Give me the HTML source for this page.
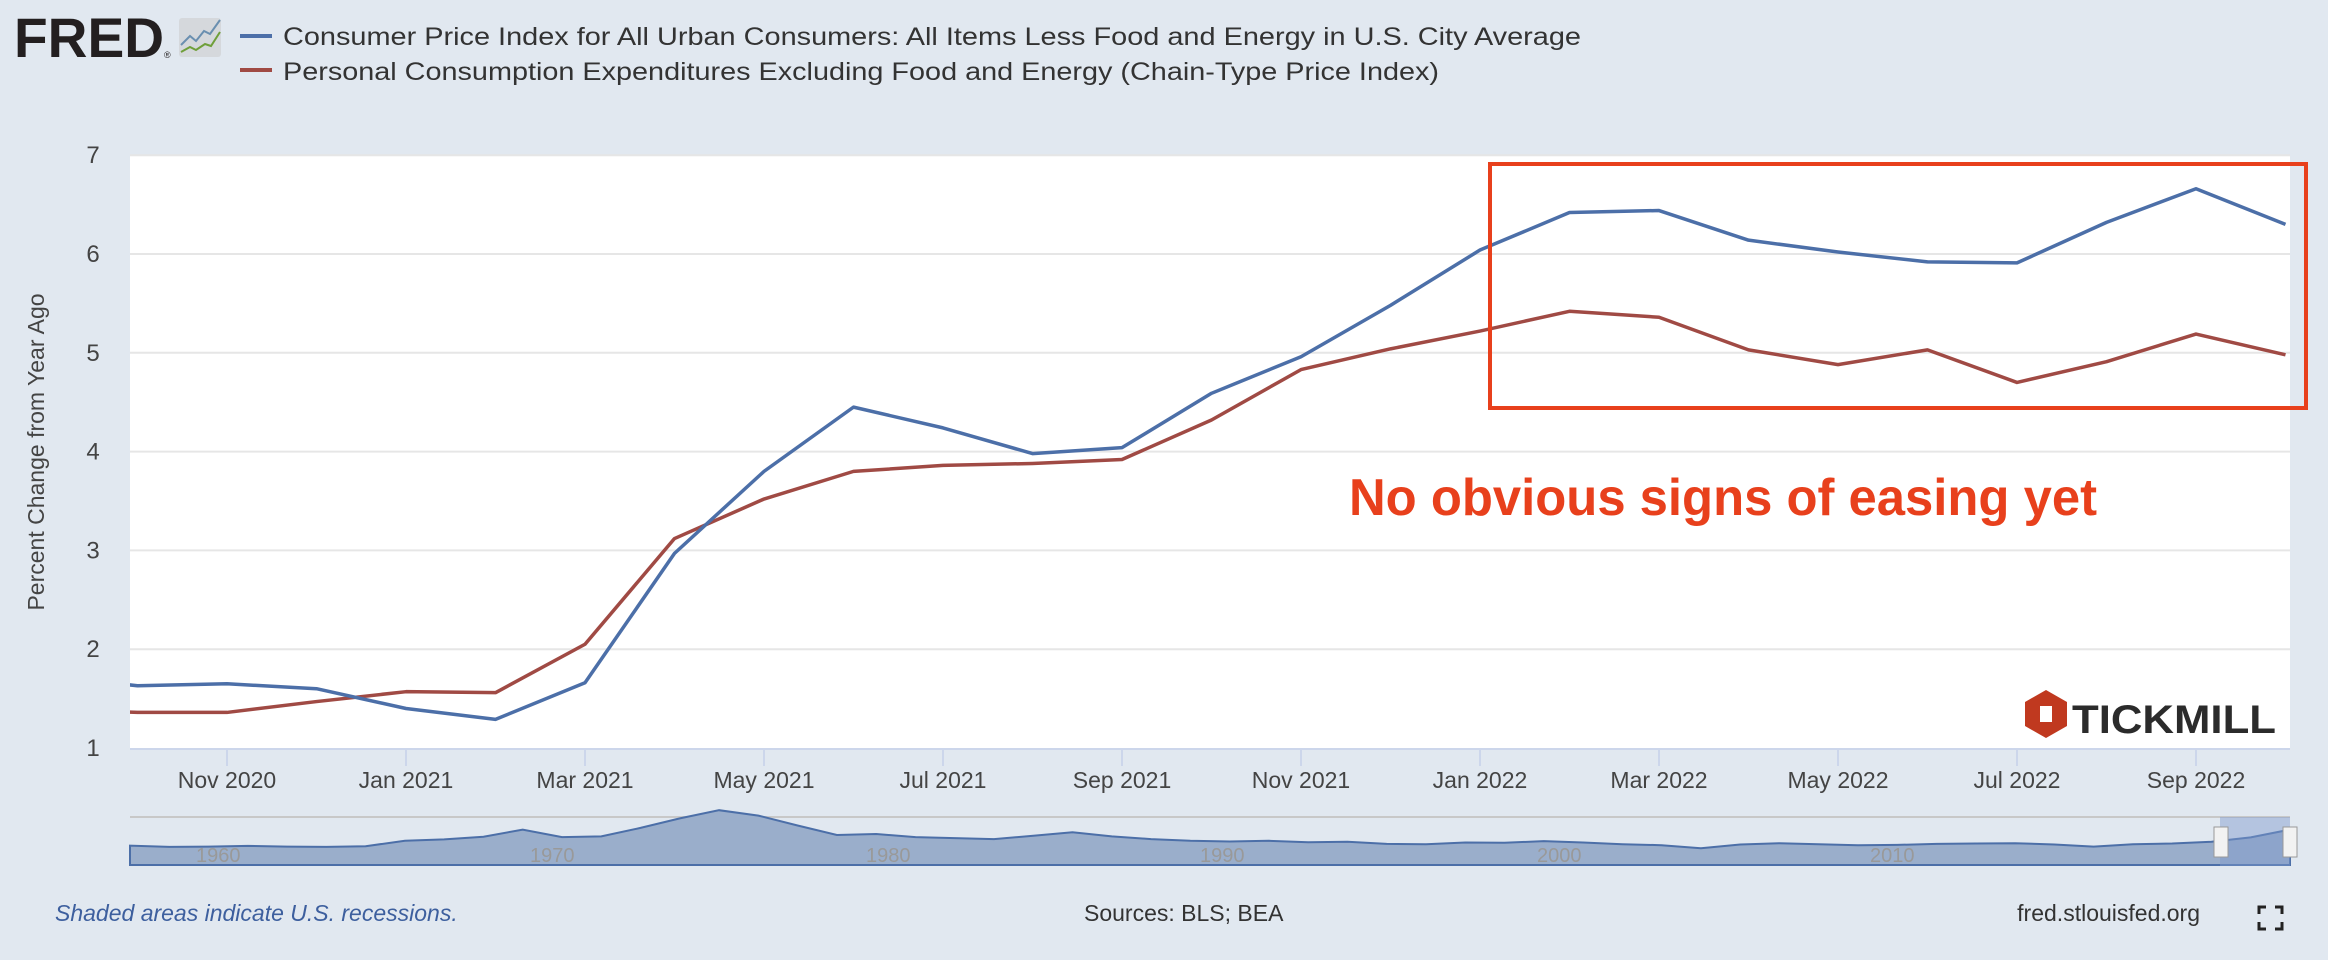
<!DOCTYPE html>
<html><head><meta charset="utf-8"><style>
html,body{margin:0;padding:0;background:#e1e8f0;}
svg{display:block;font-family:"Liberation Sans",sans-serif;}
</style></head><body>
<svg id="chart" width="2328" height="960" viewBox="0 0 2328 960">
<rect x="0" y="0" width="2328" height="960" fill="#e1e8f0"/>
<g>
<text x="14" y="57" font-size="56" font-weight="bold" fill="#231f20" textLength="150" lengthAdjust="spacingAndGlyphs">FRED</text>
<text x="164" y="58" font-size="9" fill="#231f20">®</text>
<rect x="179" y="18" width="42" height="39" rx="3" fill="#d5d8dc"/>
<polyline points="181,45 190,36 196,41 204,31 210,34 220,20" fill="none" stroke="#6a8fb0" stroke-width="2"/>
<polyline points="181,52 190,47 196,50 205,44 211,46 220,32" fill="none" stroke="#6f9f3a" stroke-width="2"/>
</g>
<g>
<rect x="240" y="34" width="32" height="4" fill="#4c6fa8"/>
<text x="283" y="45" font-size="25" fill="#333" textLength="1298" lengthAdjust="spacingAndGlyphs">Consumer Price Index for All Urban Consumers: All Items Less Food and Energy in U.S. City Average</text>
<rect x="240" y="68" width="32" height="4" fill="#a04a44"/>
<text x="283" y="80" font-size="25" fill="#333" textLength="1156" lengthAdjust="spacingAndGlyphs">Personal Consumption Expenditures Excluding Food and Energy (Chain-Type Price Index)</text>
</g>
<rect x="130" y="155" width="2160" height="593" fill="#fff"/>
<g id="grid"></g>
<g id="yticks"></g>
<g id="xticks"></g>
<text transform="translate(44,452) rotate(-90)" text-anchor="middle" font-size="23" fill="#444">Percent Change from Year Ago</text>
<defs><clipPath id="pc"><rect x="130" y="150" width="2160" height="600"/></clipPath></defs>
<g id="series" clip-path="url(#pc)"></g>
<line x1="130" y1="749" x2="2290" y2="749" stroke="#ccd6eb" stroke-width="2"/>
<g>
<polygon points="2046,690 2067,702 2067,726 2046,738 2025,726 2025,702" fill="#c0391f"/>
<polygon points="2040,706 2052,706 2052,722 2040,722" fill="#fff"/>
<text x="2072" y="733" font-size="40" font-weight="bold" fill="#2b2b2b" textLength="204" lengthAdjust="spacingAndGlyphs">TICKMILL</text>
</g>
<rect x="1490" y="164" width="816" height="244" fill="none" stroke="#e8401c" stroke-width="4"/>
<text x="1349" y="515" font-size="52" font-weight="bold" fill="#e8401c" textLength="748" lengthAdjust="spacingAndGlyphs">No obvious signs of easing yet</text>
<g>
<line x1="130" y1="817" x2="2290" y2="817" stroke="#c8c8c8" stroke-width="2"/>
<path id="navpath" fill="#9aaecb" stroke="#4c6fa8" stroke-width="2"/>
<rect x="2220" y="817" width="70" height="49" fill="#7f9acb" opacity="0.45"/>
<text x="196" y="862" font-size="20" fill="#999">1960</text>
<text x="530" y="862" font-size="20" fill="#999">1970</text>
<text x="866" y="862" font-size="20" fill="#999">1980</text>
<text x="1200" y="862" font-size="20" fill="#999">1990</text>
<text x="1537" y="862" font-size="20" fill="#999">2000</text>
<text x="1870" y="862" font-size="20" fill="#999">2010</text>
<rect x="2214" y="827" width="14" height="30" fill="#f2f2f2" stroke="#999"/>
<rect x="2283" y="827" width="14" height="30" fill="#f2f2f2" stroke="#999"/>
</g>
<text x="55" y="921" font-size="23" font-style="italic" fill="#3d5f9e">Shaded areas indicate U.S. recessions.</text>
<text x="1084" y="921" font-size="23" fill="#333">Sources: BLS; BEA</text>
<text x="2200" y="921" font-size="23" fill="#333" text-anchor="end">fred.stlouisfed.org</text>
<g fill="none" stroke="#222" stroke-width="3">
<polyline points="2259,914 2259,907 2266,907"/><polyline points="2275,907 2282,907 2282,914"/>
<polyline points="2259,922 2259,929 2266,929"/><polyline points="2275,929 2282,929 2282,922"/>
</g>
</svg>
<script>
const months = ["Sep 2020","Oct 2020","Nov 2020","Dec 2020","Jan 2021","Feb 2021","Mar 2021","Apr 2021","May 2021","Jun 2021","Jul 2021","Aug 2021","Sep 2021","Oct 2021","Nov 2021","Dec 2021","Jan 2022","Feb 2022","Mar 2022","Apr 2022","May 2022","Jun 2022","Jul 2022","Aug 2022","Sep 2022","Oct 2022"];
const cpiValues = [1.73,1.63,1.65,1.60,1.40,1.29,1.66,2.97,3.80,4.45,4.24,3.98,4.04,4.59,4.96,5.48,6.04,6.42,6.44,6.14,6.02,5.92,5.91,6.32,6.66,6.30];
const pceValues = [1.40,1.36,1.36,1.47,1.57,1.56,2.05,3.12,3.52,3.80,3.86,3.88,3.92,4.32,4.83,5.04,5.22,5.42,5.36,5.03,4.88,5.03,4.70,4.91,5.19,4.98];
const yTicks = [1,2,3,4,5,6,7];
const xTickLabels = ["Nov 2020","Jan 2021","Mar 2021","May 2021","Jul 2021","Sep 2021","Nov 2021","Jan 2022","Mar 2022","May 2022","Jul 2022","Sep 2022"];
const navValues = [1.6,1.2,1.3,1.5,1.3,1.2,1.4,3.0,3.4,4.2,6.3,4.1,4.3,6.8,9.6,12.0,10.4,7.5,4.7,5.0,4.1,3.8,3.5,4.5,5.5,4.3,3.5,3.0,2.8,3.0,2.6,2.7,2.1,2.0,2.5,2.4,2.9,2.5,2.0,1.7,0.8,1.9,2.3,2.0,1.7,1.8,2.1,2.2,2.3,1.9,1.3,2.0,2.2,2.7,4.0,6.3];
const NS = "http://www.w3.org/2000/svg";
const Y0 = 748, PER_UNIT = 98.8, PER_MONTH = 89.5, NOV2020_X = 227;
function yScale(v){ return Y0 - (v - 1) * PER_UNIT; }
function xScale(i){ return NOV2020_X + (i - 2) * PER_MONTH; }
function mk(tag, attrs){ const e = document.createElementNS(NS, tag); for (const k in attrs) e.setAttribute(k, attrs[k]); return e; }
const grid = document.getElementById('grid'), yt = document.getElementById('yticks'), xt = document.getElementById('xticks'), ser = document.getElementById('series');
yTicks.forEach(v => {
  if (v > 1) {
    const l = mk('line', {x1:130, x2:2290, y1:yScale(v), y2:yScale(v), stroke:'#e6e6e6', 'stroke-width':2});
    
    
    grid.appendChild(l);
  }
  const t = mk('text', {x:93, y:yScale(v)+8, 'font-size':24, fill:'#444', 'text-anchor':'middle'});
  t.textContent = v;
  
  
  yt.appendChild(t);
});
xTickLabels.forEach(lab => {
  const i = months.indexOf(lab), x = xScale(i);
  const l = mk('line', {x1:x, x2:x, y1:749, y2:766, stroke:'#ccd6eb', 'stroke-width':2});
  
  
  xt.appendChild(l);
  const t = mk('text', {x:x, y:788, 'font-size':23, fill:'#444', 'text-anchor':'middle'});
  t.textContent = lab;
  
  
  xt.appendChild(t);
});
function line(vals, color, name){
  const p = mk('polyline', {points: vals.map((v,i) => xScale(i)+','+yScale(v)).join(' '), fill:'none', stroke:color, 'stroke-width':3.5, 'stroke-linejoin':'round'});
  
  
  ser.appendChild(p);
}
line(pceValues, '#a04a44', 'pce-line');
line(cpiValues, '#4c6fa8', 'cpi-line');
const nx0 = 130, nx1 = 2290, nb = 865;
let d = 'M' + nx0 + ',' + nb;
navValues.forEach((v,i) => { d += ' L' + (nx0 + i*(nx1-nx0)/(navValues.length-1)).toFixed(1) + ',' + (nb - 14 - v*3.4).toFixed(1); });
d += ' L' + nx1 + ',' + nb + ' Z';
document.getElementById('navpath').setAttribute('d', d);
</script>
</body></html>
